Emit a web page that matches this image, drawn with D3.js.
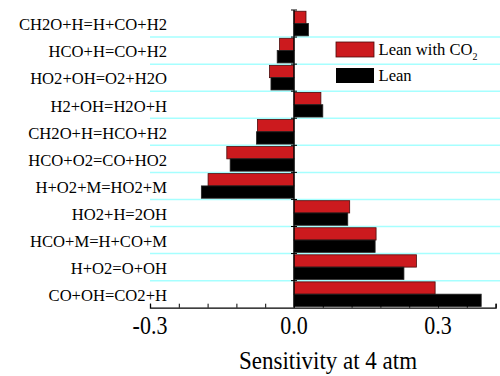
<!DOCTYPE html>
<html>
<head>
<meta charset="utf-8">
<script src="https://cdn.jsdelivr.net/npm/d3@7"></script>
<style>
  body { margin: 0; background: #fff; }
  svg text { font-family: "Times New Roman", "Liberation Serif", "DejaVu Serif", serif; fill: #000; }
</style>
</head>
<body>
<div id="vis"></div>
<script>
// reactions, top to bottom
const reactions = [
    "CH2O+H=H+CO+H2",
    "HCO+H=CO+H2",
    "HO2+OH=O2+H2O",
    "H2+OH=H2O+H",
    "CH2O+H=HCO+H2",
    "HCO+O2=CO+HO2",
    "H+O2+M=HO2+M",
    "HO2+H=2OH",
    "HCO+M=H+CO+M",
    "H+O2=O+OH",
    "CO+OH=CO2+H"
]
const leanWithCO2 = [0.025, -0.030, -0.051, 0.056, -0.076, -0.140, -0.179, 0.116, 0.171, 0.255, 0.294]
const lean = [0.030, -0.035, -0.048, 0.060, -0.078, -0.133, -0.193, 0.112, 0.169, 0.229, 0.390]
const xTicks = [-0.3, 0.0, 0.3]
const series = ["co2", "lean"]
const colors = {co2: "#cc1a1e", lean: "#000000"}

const width = 500, height = 376
const serif = '"Times New Roman", "Liberation Serif", "DejaVu Serif", serif'

const svg = d3.select("#vis")
    .append("svg")
    .attr("width", width)
    .attr("height", height)

const x = d3.scaleLinear()
    .domain([-0.3, 0.42])
    .range([150, 495.6])

const y = d3.scaleBand()
    .domain(reactions)
    .range([10, 307.7])

const inner = d3.scaleBand()
    .domain(series)
    .range([0, y.bandwidth()])
    .paddingOuter(0.1)

// cyan separators between categories
svg.selectAll(".sep")
    .data(reactions.slice(1))
    .enter()
    .append("line")
    .attr("class", "sep")
    .attr("x1", x(-0.3))
    .attr("x2", width)
    .attr("y1", d => y(d))
    .attr("y2", d => y(d))
    .attr("stroke", "#a6ffff")
    .attr("stroke-width", 1.5)

const rows = reactions.map((r, i) => ({reaction: r, co2: leanWithCO2[i], lean: lean[i]}))

const bars = []
rows.forEach(d => series.forEach(s => bars.push({reaction: d.reaction, key: s, value: d[s]})))

svg.selectAll(".bar")
    .data(bars)
    .enter()
    .append("rect")
    .attr("class", "bar")
    .attr("x", d => x(Math.min(0, d.value)))
    .attr("y", d => y(d.reaction) + inner(d.key))
    .attr("width", d => Math.abs(x(d.value) - x(0)))
    .attr("height", inner.bandwidth())
    .attr("fill", d => colors[d.key])
    .attr("stroke", d => d.key == "co2" ? "#4a0a0a" : "#222")
    .attr("stroke-width", 0.8)

// x axis
const xAxis = svg.append("g")
    .attr("transform", `translate(0,${y.range()[1]})`)
    .call(d3.axisBottom(x).tickValues(d3.range(-0.3, 0.4201, 0.06)).tickSize(-4).tickFormat(""))
xAxis.select(".domain").attr("stroke-width", 1.3)
xAxis.selectAll(".tick line").attr("stroke-width", 1)

// tick labels, slightly stretched vertically like the original
svg.selectAll(".xlabel")
    .data(xTicks)
    .enter()
    .append("text")
    .attr("class", "xlabel")
    .attr("transform", d => `translate(${x(d)},334) scale(1,1.1)`)
    .attr("text-anchor", "middle")
    .attr("font-family", serif)
    .style("font-size", "22px")
    .text(d => d3.format(".1f")(d).replace("−", "-"))

svg.append("text")
    .attr("transform", "translate(328,369) scale(1,1.1)")
    .attr("text-anchor", "middle")
    .attr("font-family", serif)
    .style("font-size", "23px")
    .text("Sensitivity at 4 atm")

// y axis at zero
const yAxis = svg.append("g")
svg.append("line")
    .attr("x1", x(0)).attr("x2", x(0))
    .attr("y1", y.range()[0]).attr("y2", y.range()[1])
    .attr("stroke", "#000").attr("stroke-width", 1.3)

const boundaries = reactions.map(r => y(r))
yAxis.selectAll("line")
    .data(boundaries)
    .enter()
    .append("line")
    .attr("x1", x(0) - 3)
    .attr("x2", x(0) + 3)
    .attr("y1", d => d)
    .attr("y2", d => d)
    .attr("stroke", "#000")
    .attr("stroke-width", 1)

// category labels
svg.selectAll(".ylabel")
    .data(reactions)
    .enter()
    .append("text")
    .attr("class", "ylabel")
    .attr("x", 167)
    .attr("y", d => y(d) + y.bandwidth() / 2 + 6.8)
    .attr("text-anchor", "end")
    .attr("font-family", serif)
    .style("font-size", "16.6px")
    .text(d => d)

// legend
const legend = svg.append("g").attr("transform", "translate(336,42)")
legend.append("rect")
    .attr("width", 38).attr("height", 15)
    .attr("fill", colors.co2).attr("stroke", "#4a0a0a").attr("stroke-width", 0.8)
legend.append("rect")
    .attr("y", 26).attr("width", 38).attr("height", 15)
    .attr("fill", colors.lean)
const t1 = legend.append("text")
    .attr("x", 42.5).attr("y", 12.5)
    .attr("font-family", serif)
    .style("font-size", "16.6px")
t1.append("tspan").text("Lean with CO")
t1.append("tspan").attr("dy", 5).style("font-size", "10px").text("2")
legend.append("text")
    .attr("x", 42.5).attr("y", 38.5)
    .attr("font-family", serif)
    .style("font-size", "16.6px")
    .text("Lean")
</script>
</body>
</html>
